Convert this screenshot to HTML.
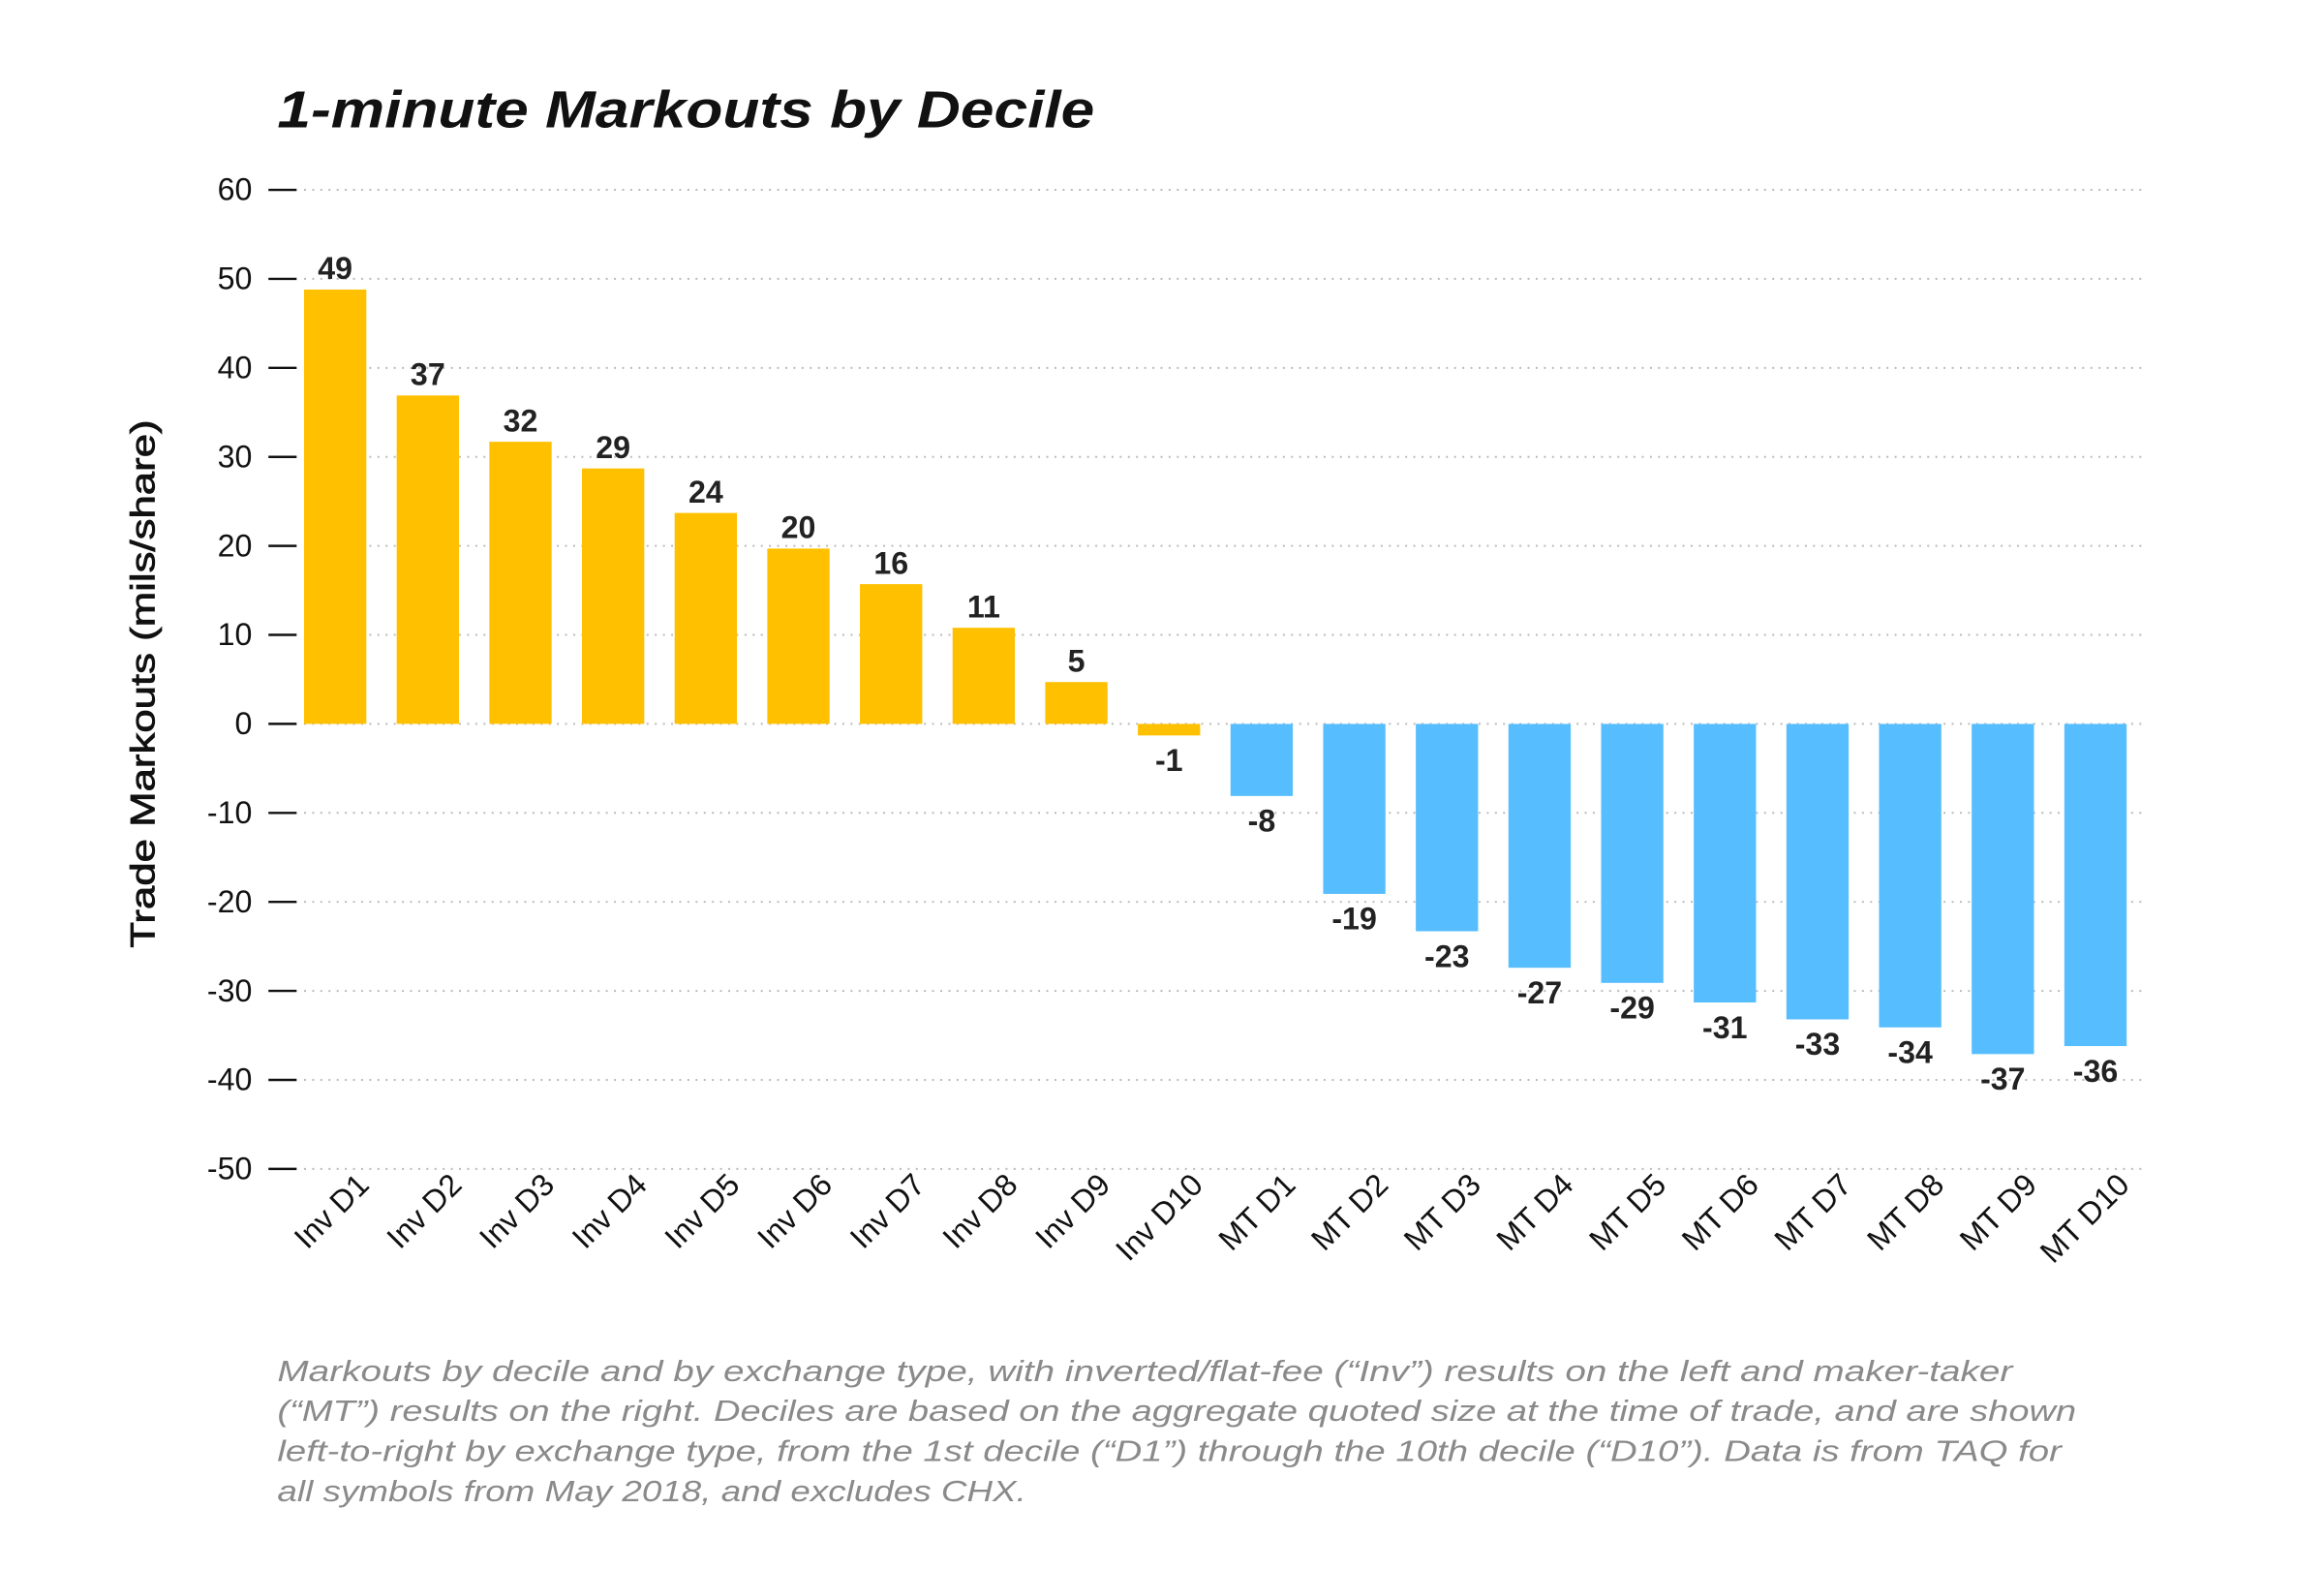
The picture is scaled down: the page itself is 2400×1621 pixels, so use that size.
<!DOCTYPE html>
<html><head><meta charset="utf-8"><style>
html,body{margin:0;padding:0;background:#fff;}
svg{display:block;}
text{font-family:"Liberation Sans","DejaVu Sans",sans-serif;}
</style></head><body>
<svg id="chart" width="2400" height="1621" viewBox="0 0 1567 1058.4" xmlns="http://www.w3.org/2000/svg">
<text x="187" y="86" font-size="35" font-weight="bold" font-style="italic" fill="#111" textLength="551" lengthAdjust="spacingAndGlyphs">1-minute Markouts by Decile</text>
<text transform="translate(104,461) rotate(-90)" text-anchor="middle" font-size="23" fill="#111" stroke="#111" stroke-width="0.5" textLength="356" lengthAdjust="spacingAndGlyphs">Trade Markouts (mils/share)</text>
<g id="grid"></g>
<g id="yaxis"></g>
<g id="bars"></g>
<g id="xaxis"></g>
<g font-size="20" font-style="italic" fill="#8a8a8a">
<text x="187" y="931" textLength="1170" lengthAdjust="spacingAndGlyphs">Markouts by decile and by exchange type, with inverted/flat-fee (“Inv”) results on the left and maker-taker</text>
<text x="187" y="958" textLength="1213" lengthAdjust="spacingAndGlyphs">(“MT”) results on the right. Deciles are based on the aggregate quoted size at the time of trade, and are shown</text>
<text x="187" y="985" textLength="1203" lengthAdjust="spacingAndGlyphs">left-to-right by exchange type, from the 1st decile (“D1”) through the 10th decile (“D10”). Data is from TAQ for</text>
<text x="187" y="1012" textLength="505" lengthAdjust="spacingAndGlyphs">all symbols from May 2018, and excludes CHX.</text>
</g>
</svg>
<script>
const categories = ["Inv D1","Inv D2","Inv D3","Inv D4","Inv D5","Inv D6","Inv D7","Inv D8","Inv D9","Inv D10","MT D1","MT D2","MT D3","MT D4","MT D5","MT D6","MT D7","MT D8","MT D9","MT D10"];
const values = [48.8,36.9,31.7,28.7,23.7,19.7,15.7,10.8,4.7,-1.3,-8.1,-19.1,-23.3,-27.4,-29.1,-31.3,-33.2,-34.1,-37.1,-36.2];
const valueLabels = ["49","37","32","29","24","20","16","11","5","-1","-8","-19","-23","-27","-29","-31","-33","-34","-37","-36"];
const yTicks = [60,50,40,30,20,10,0,-10,-20,-30,-40,-50];

const NS = "http://www.w3.org/2000/svg";
const y = v => 488 - v * 6;
const xc = i => 226 + i * 62.47;
const bw = 42;
function mk(tag, attrs, parent){const e=document.createElementNS(NS,tag);for(const k in attrs)e.setAttribute(k,attrs[k]);parent.appendChild(e);return e;}
const grid=document.getElementById('grid'), yax=document.getElementById('yaxis'), bars=document.getElementById('bars'), xax=document.getElementById('xaxis');
yTicks.forEach(t=>{
  const g=mk('line',{x1:205,x2:1447,y1:y(t),y2:y(t),stroke:'#bbb','stroke-width':1.3,'stroke-dasharray':'1.3 4.2'},grid);
  
  
  const tk=mk('line',{x1:181,x2:200,y1:y(t),y2:y(t),stroke:'#111','stroke-width':1.6},yax);
  
  
  const lb=mk('text',{x:170,y:y(t)+7,'text-anchor':'end','font-size':21,fill:'#111'},yax);
  lb.textContent=t;
  
  
});
categories.forEach((c,i)=>{
  const v=values[i];
  const top=Math.min(y(v),y(0)), h=Math.abs(y(v)-y(0));
  const r=mk('rect',{x:xc(i)-bw/2,y:top,width:bw,height:h,fill:i<10?'#FFC000':'#56BEFF'},bars);
  
  
  const vl=mk('text',{x:xc(i),y:v>=0?y(v)-7:y(v)+24,'text-anchor':'middle','font-size':21,'font-weight':'bold',fill:'#222'},bars);
  vl.textContent=valueLabels[i];
  
  
  const xl=mk('text',{transform:`translate(${xc(i)+24},${800}) rotate(-45)`,'text-anchor':'end','font-size':21,fill:'#111'},xax);
  xl.textContent=c;
  
  
});
</script>
</body></html>
